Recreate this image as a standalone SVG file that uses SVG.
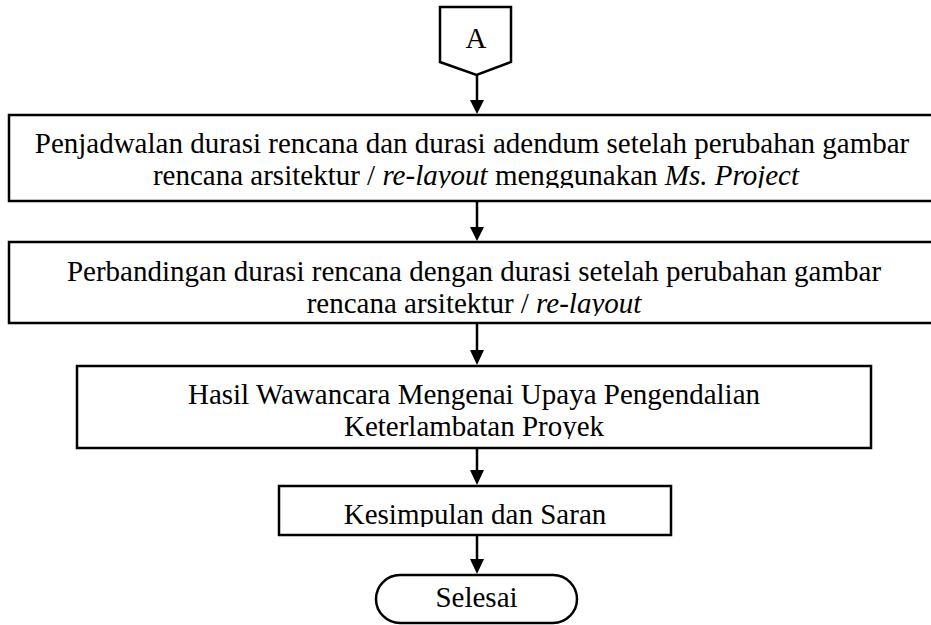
<svg xmlns="http://www.w3.org/2000/svg" width="931" height="625" viewBox="0 0 931 625">
<style>
  .box { fill: #fff; stroke: #000; stroke-width: 2.5; }
  .t { font-family: "Liberation Serif", "Times New Roman", serif; font-size: 29px; fill: #000; text-anchor: middle; }
  .i { font-style: italic; }
  .conn { stroke: #000; stroke-width: 2.5; fill: none; }
</style>
<defs>
  <marker id="arr" markerUnits="userSpaceOnUse" markerWidth="16" markerHeight="16" refX="7" refY="15" orient="auto-start-reverse" viewBox="0 0 14 16">
    <path d="M0,0 L14,0 L7,15 Z" fill="#000"/>
  </marker>
  <clipPath id="c1"><rect x="0" y="116" width="931" height="72"/></clipPath>
  <clipPath id="c2"><rect x="0" y="243" width="931" height="73"/></clipPath>
  <clipPath id="c3"><rect x="0" y="367" width="931" height="72"/></clipPath>
  <clipPath id="c4"><rect x="0" y="487" width="931" height="40"/></clipPath>
</defs>
<rect width="931" height="625" fill="#fff"/>

<g id="connectors">
  <line class="conn" x1="477" y1="75" x2="477" y2="100"/>
  <path d="M470,100 L484,100 L477,114 Z" fill="#000"/>
  <line class="conn" x1="477" y1="201" x2="477" y2="228"/>
  <path d="M470,227 L484,227 L477,241 Z" fill="#000"/>
  <line class="conn" x1="477" y1="323" x2="477" y2="351"/>
  <path d="M470,350 L484,350 L477,365 Z" fill="#000"/>
  <line class="conn" x1="477" y1="448" x2="477" y2="471"/>
  <path d="M470,470 L484,470 L477,485 Z" fill="#000"/>
  <line class="conn" x1="477" y1="535" x2="477" y2="560"/>
  <path d="M470,559 L484,559 L477,574 Z" fill="#000"/>
</g>

<g id="node-A">
  <path class="box" d="M440,7 L511,7 L511,62 L476.5,75 L440,62 Z"/>
  <text class="t" x="476" y="48">A</text>
</g>

<g id="node-penjadwalan">
  <rect class="box" x="9" y="115" width="930" height="86"/>
  <g clip-path="url(#c1)">
    <text class="t" x="472" y="153">Penjadwalan durasi rencana dan durasi adendum setelah perubahan gambar</text>
    <text class="t" x="476" y="185">rencana arsitektur / <tspan class="i">re-layout</tspan> menggunakan <tspan class="i">Ms. Project</tspan></text>
  </g>
</g>

<g id="node-perbandingan">
  <rect class="box" x="9" y="242" width="930" height="81"/>
  <g clip-path="url(#c2)">
    <text class="t" x="474" y="281">Perbandingan durasi rencana dengan durasi setelah perubahan gambar</text>
    <text class="t" x="474" y="313">rencana arsitektur / <tspan class="i">re-layout</tspan></text>
  </g>
</g>

<g id="node-wawancara">
  <rect class="box" x="77" y="366" width="794" height="82"/>
  <g clip-path="url(#c3)">
    <text class="t" x="474" y="404">Hasil Wawancara Mengenai Upaya Pengendalian</text>
    <text class="t" x="474" y="436">Keterlambatan Proyek</text>
  </g>
</g>

<g id="node-kesimpulan">
  <rect class="box" x="279" y="486" width="392" height="49"/>
  <g clip-path="url(#c4)">
    <text class="t" x="475" y="524">Kesimpulan dan Saran</text>
  </g>
</g>

<g id="node-selesai">
  <rect class="box" x="376" y="575" width="201" height="48" rx="24" ry="24"/>
  <text class="t" x="476.5" y="607">Selesai</text>
</g>
</svg>
